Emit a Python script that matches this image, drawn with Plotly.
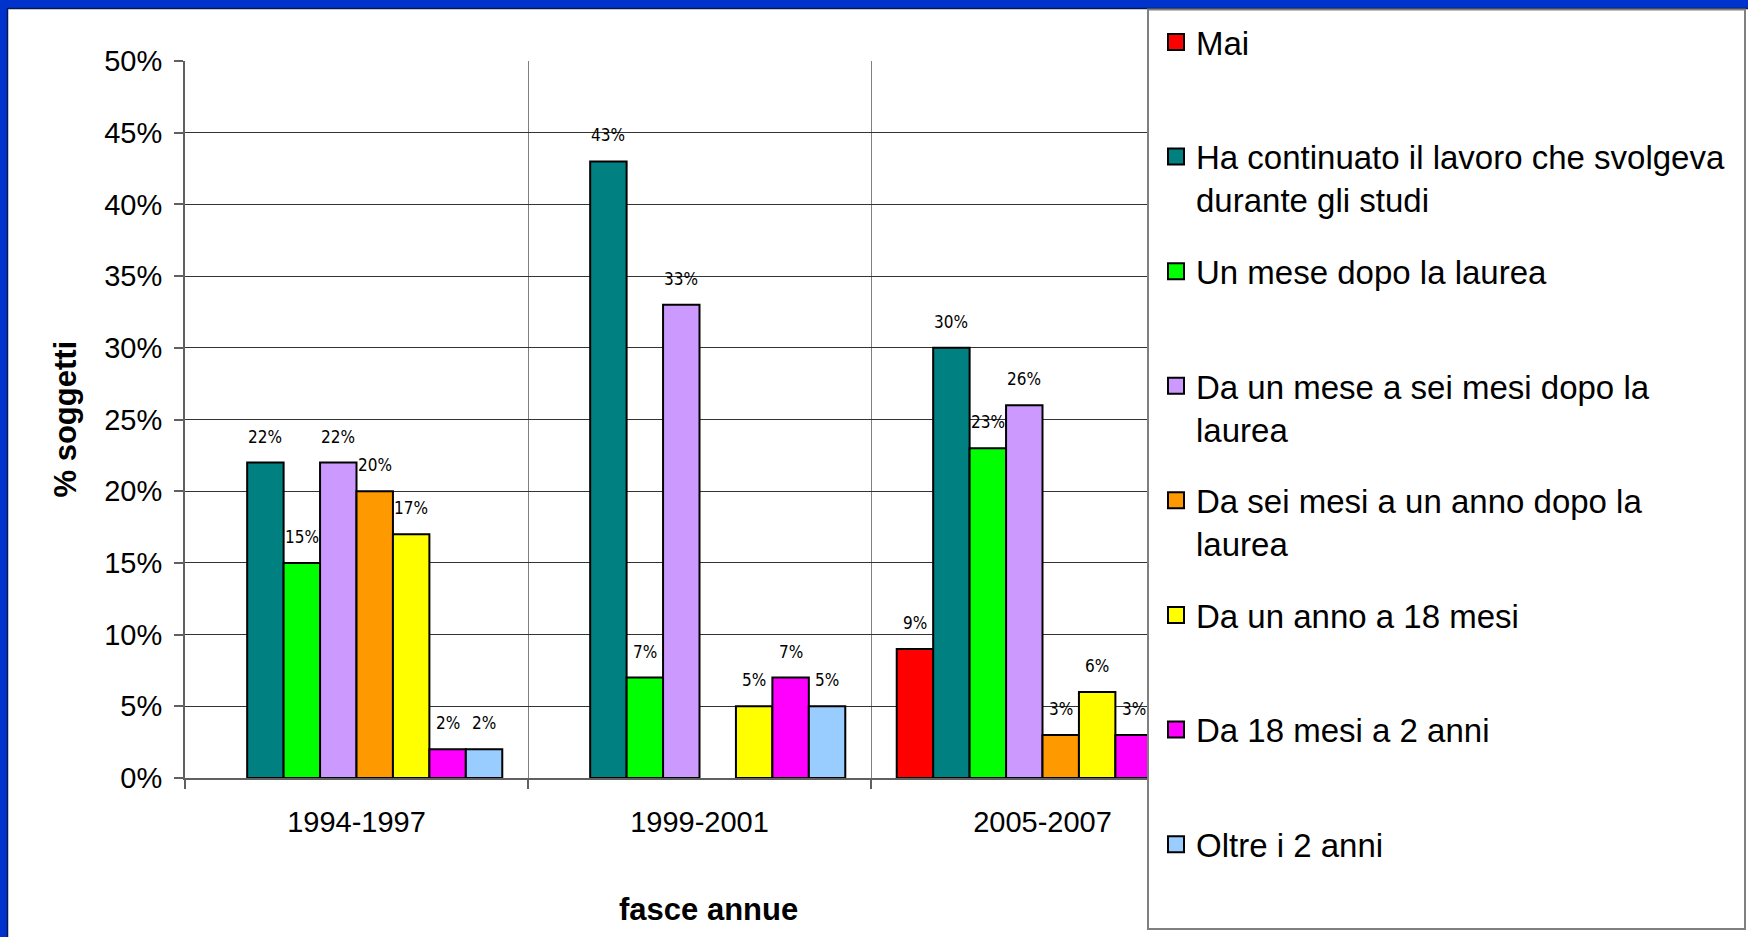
import plotly.graph_objects as go

# ---------------- data ----------------
categories = ["1994-1997", "1999-2001", "2005-2007"]

series_names = [
    "Mai",
    "Ha continuato il lavoro che svolgeva<br>durante gli studi",
    "Un mese dopo la laurea",
    "Da un mese a sei mesi dopo la<br>laurea",
    "Da sei mesi a un anno dopo la<br>laurea",
    "Da un anno a 18 mesi",
    "Da 18 mesi a 2 anni",
    "Oltre i 2 anni",
]

mai = [None, None, 9]
continuato = [22, 43, 30]
un_mese = [15, 7, 23]
da_un_mese_a_sei = [22, 33, 26]
da_sei_mesi_a_anno = [20, None, 3]
da_anno_a_18 = [17, 5, 6]
da_18_a_2_anni = [2, 7, 3]
oltre_2_anni = [2, 5, None]

series_values = [mai, continuato, un_mese, da_un_mese_a_sei,
                 da_sei_mesi_a_anno, da_anno_a_18, da_18_a_2_anni, oltre_2_anni]

colors = ["#FF0000", "#008080", "#00FF00", "#CC99FF",
          "#FF9900", "#FFFF00", "#FF00FF", "#99CCFF"]

y_ticks = [0, 5, 10, 15, 20, 25, 30, 35, 40, 45, 50]

# ---------------- layout constants ----------------
W, H = 1748, 937
L, R, T, B = 185, 1214, 61, 778          # plot area in pixels
BARGAP = 0.15
FONT = "Liberation Sans, Arial, sans-serif"
LABEL_FONT = "DejaVu Sans Condensed, DejaVu Sans, sans-serif"

def px_x(px):
    return (px - L) / (R - L)

def px_y(py):
    return (B - py) / (B - T)

fig = go.Figure()

n = len(series_values)
for i, (name, vals, col) in enumerate(zip(series_names, series_values, colors)):
    fig.add_trace(go.Bar(
        x=categories, y=vals, name=name.replace("<br>", " "), showlegend=False,
        marker=dict(color=col, line=dict(color="black", width=2)),
        hoverinfo="skip",
    ))

# legend entries (bigger square swatches)
for i, (name, col) in enumerate(zip(series_names, colors)):
    lname = name if "<br>" in name else name + "<br> "
    fig.add_trace(go.Scatter(
        x=[None], y=[None], mode="markers", name=lname, legendgroup=str(i),
        marker=dict(symbol="square", size=16, color=col,
                    line=dict(color="black", width=2)),
        hoverinfo="skip",
    ))

# data labels above the bars
cat_px = (R - L) / len(categories)
bar_px = (1 - BARGAP) * cat_px / n
annotations = []
for i, vals in enumerate(series_values):
    for c, v in zip(categories, vals):
        if v is None:
            continue
        annotations.append(dict(
            x=c, y=v, xref="x", yref="y", text=f"{v}%", showarrow=False,
            xshift=(i - (n - 1) / 2) * bar_px, yshift=26,
            xanchor="center", yanchor="middle",
            font=dict(family=LABEL_FONT, size=17, color="black"),
        ))

# axis titles
annotations.append(dict(
    x=px_x(708), y=px_y(909), xref="paper", yref="paper", showarrow=False,
    text="<b>fasce annue</b>", font=dict(family=FONT, size=31, color="black"),
    xanchor="center", yanchor="middle"))
annotations.append(dict(
    x=px_x(65), y=0.5, xref="paper", yref="paper", showarrow=False,
    text="<b>% soggetti</b>", textangle=-90,
    font=dict(family=FONT, size=31, color="black"),
    xanchor="center", yanchor="middle"))

shapes = [
    # blue frame
    dict(type="rect", xref="paper", yref="paper", layer="below",
         x0=px_x(0), x1=px_x(W), y0=px_y(0), y1=px_y(8),
         fillcolor="#0033CC", line=dict(width=0)),
    dict(type="rect", xref="paper", yref="paper", layer="below",
         x0=px_x(0), x1=px_x(7), y0=px_y(0), y1=px_y(H),
         fillcolor="#0033CC", line=dict(width=0)),
    dict(type="line", xref="paper", yref="paper", layer="below",
         x0=px_x(7), x1=px_x(W), y0=px_y(8.5), y1=px_y(8.5),
         line=dict(color="#001a55", width=1.5)),
    dict(type="line", xref="paper", yref="paper", layer="below",
         x0=px_x(7.5), x1=px_x(7.5), y0=px_y(8), y1=px_y(H),
         line=dict(color="#001a55", width=1.5)),
    # legend box covering the right part of the plot
    dict(type="rect", xref="paper", yref="paper", layer="above",
         x0=px_x(1148), x1=px_x(1745), y0=px_y(929), y1=px_y(9.5),
         fillcolor="white", line=dict(color="#808080", width=2)),
]

fig.update_layout(
    width=W, height=H,
    margin=dict(l=L, r=W - R, t=T, b=H - B, autoexpand=False),
    paper_bgcolor="white", plot_bgcolor="white",
    barmode="group", bargap=BARGAP, bargroupgap=0,
    font=dict(family=FONT, size=29, color="black"),
    showlegend=True,
    legend=dict(
        xref="container", yref="container",
        x=1156 / W, y=1 - 14 / H, xanchor="left", yanchor="top",
        font=dict(family=FONT, size=33, color="black"),
        traceorder="grouped", tracegroupgap=25.8, valign="top",
        bgcolor="rgba(0,0,0,0)", borderwidth=0,
        itemsizing="trace", maxheight=930,
    ),
    xaxis=dict(
        type="category", range=[-0.5, 2.5], tickson="boundaries",
        showgrid=True, gridcolor="#808080", gridwidth=1,
        showline=True, linecolor="#606060", linewidth=2,
        ticks="outside", ticklen=9, tickcolor="#606060", tickwidth=2,
        tickfont=dict(family=FONT, size=29, color="black"),
        ticklabelstandoff=17,
    ),
    yaxis=dict(
        range=[0, 50], tickvals=y_ticks, ticktext=[f"{t}%" for t in y_ticks],
        showgrid=True, gridcolor="#333333", gridwidth=1,
        showline=True, linecolor="#606060", linewidth=2,
        ticks="outside", ticklen=9, tickcolor="#606060", tickwidth=2,
        tickfont=dict(family=FONT, size=29, color="black"),
        ticklabelstandoff=6, zeroline=False,
    ),
    annotations=annotations,
    shapes=shapes,
)

fig.write_html(
    "out.html",
    config={"displayModeBar": False},
    post_script="document.body.style.margin='0';document.body.style.overflow='hidden';",
)
